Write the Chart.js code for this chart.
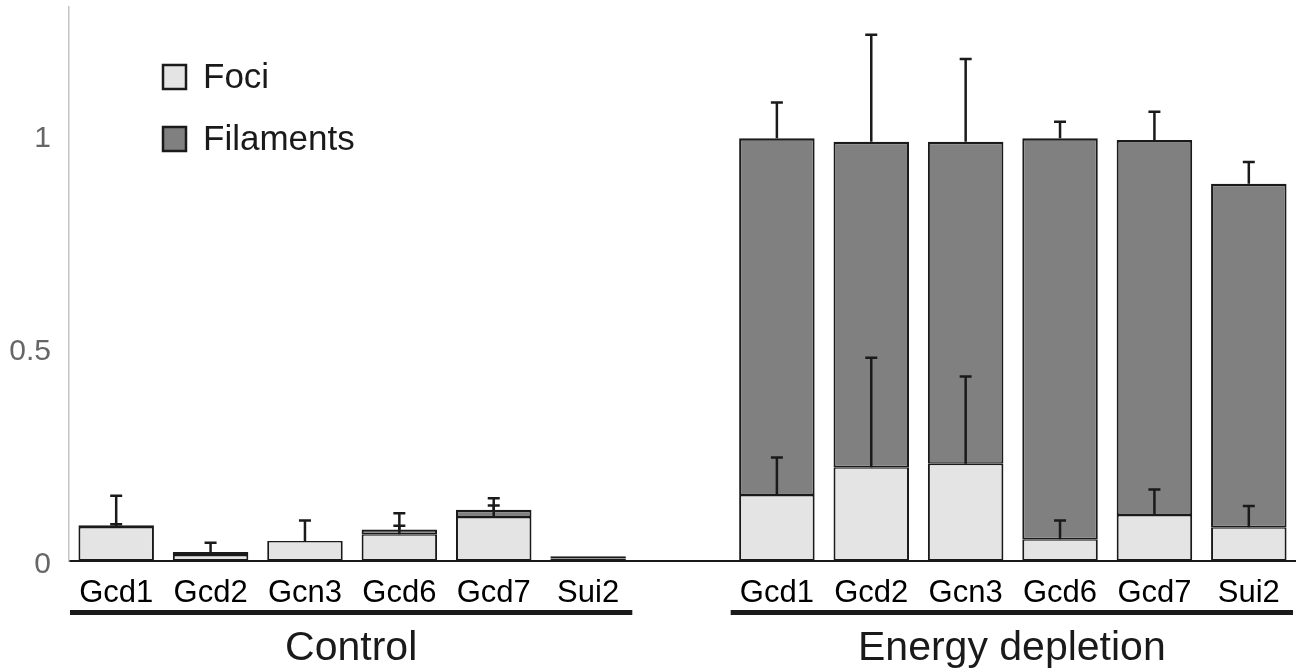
<!DOCTYPE html>
<html>
<head>
<meta charset="utf-8">
<script src="https://cdn.jsdelivr.net/npm/chart.js@4"></script>
<style>
  html, body { margin: 0; padding: 0; background: #fff; }
  #wrap { width: 1296px; height: 668px; position: relative; }
</style>
</head>
<body>
<div id="wrap"><canvas id="chart"></canvas></div>
<script>
// values
const proteins = ['Gcd1', 'Gcd2', 'Gcn3', 'Gcd6', 'Gcd7', 'Sui2'];
const groups = ['Control', 'Energy depletion'];
const yTicks = [0, 0.5, 1];

const fociControl = [0.080, 0.014, 0.047, 0.063, 0.103, 0.006];
const filamentsControl = [0.004, 0.007, 0.000, 0.011, 0.017, 0.005];
const fociControlErr = [0.073, 0.029, 0.048, 0.049, 0.044, 0];
const filamentsControlErr = [0.002, 0, 0, 0.009, 0.010, 0];

const fociEnergy = [0.155, 0.220, 0.228, 0.051, 0.108, 0.079];
const filamentsEnergy = [0.837, 0.764, 0.756, 0.941, 0.880, 0.806];
const fociEnergyErr = [0.088, 0.257, 0.205, 0.044, 0.060, 0.050];
const filamentsEnergyErr = [0.084, 0.251, 0.194, 0.039, 0.066, 0.051];

const FONT = '"Liberation Sans", Arial, Helvetica, sans-serif';
const FOCI_COLOR = '#e5e4e5';
const FIL_COLOR = '#808080';
const INK = '#1a1a1a';

// one empty slot between the two groups
const labels = [...proteins, '', ...proteins];
const join = (a, b) => [...a, null, ...b];

// error bars drawn upward from the top of each segment
const errorBars = {
    id: 'errorBars',
    afterDatasetsDraw(chart) {
        const ctx = chart.ctx;
        const yScale = chart.scales.y;
        const sets = chart.data.datasets;
        ctx.save();
        ctx.strokeStyle = INK;
        ctx.lineWidth = 2.5;
        sets.forEach((ds, i) => {
            const meta = chart.getDatasetMeta(i);
            meta.data.forEach((bar, j) => {
                const err = ds.errors[j];
                if (!err) return;
                let top = 0;
                for (let k = 0; k <= i; k++) top += sets[k].data[j] || 0;
                const y0 = yScale.getPixelForValue(top);
                const y1 = yScale.getPixelForValue(top + err);
                ctx.beginPath();
                ctx.moveTo(bar.x, y0);
                ctx.lineTo(bar.x, y1);
                ctx.moveTo(bar.x - 6, y1);
                ctx.lineTo(bar.x + 6, y1);
                ctx.stroke();
            });
        });
        ctx.restore();
    }
};

// legend inside the plot, stacked vertically
const boxLegend = {
    id: 'boxLegend',
    afterDraw(chart) {
        const ctx = chart.ctx;
        const x = chart.chartArea.left + 94;
        const rows = [
            { text: 'Foci', color: FOCI_COLOR, y: 77 },
            { text: 'Filaments', color: FIL_COLOR, y: 139 }
        ];
        ctx.save();
        rows.forEach(r => {
            ctx.fillStyle = r.color;
            ctx.fillRect(x, r.y - 12, 23, 24);
            ctx.strokeStyle = INK;
            ctx.lineWidth = 2.5;
            ctx.strokeRect(x, r.y - 12, 23, 24);
            ctx.fillStyle = INK;
            ctx.font = '35px ' + FONT;
            ctx.textBaseline = 'middle';
            ctx.textAlign = 'left';
            ctx.fillText(r.text, x + 40, r.y + 1);
        });
        ctx.restore();
    }
};

// group underline and group name below the tick labels
const groupLabels = {
    id: 'groupLabels',
    afterDraw(chart) {
        const ctx = chart.ctx;
        const xs = chart.scales.x;
        const step = xs.width / labels.length;
        const spans = [[0, proteins.length - 1], [proteins.length + 1, labels.length - 1]];
        ctx.save();
        spans.forEach((s, g) => {
            const x0 = xs.getPixelForValue(s[0]) - step / 2 + 1;
            const x1 = xs.getPixelForValue(s[1]) + step / 2 - 3;
            ctx.fillStyle = INK;
            ctx.fillRect(x0, 610, x1 - x0, 5);
            ctx.font = '41px ' + FONT;
            ctx.textAlign = 'center';
            ctx.textBaseline = 'alphabetic';
            ctx.fillText(groups[g], (x0 + x1) / 2, 660);
        });
        ctx.restore();
    }
};

const ctx = document.getElementById('chart').getContext('2d');
new Chart(ctx, {
    type: 'bar',
    data: {
        labels: labels,
        datasets: [{
            label: 'Foci',
            data: join(fociControl, fociEnergy),
            errors: join(fociControlErr, fociEnergyErr),
            backgroundColor: FOCI_COLOR,
            borderColor: INK,
            borderWidth: { left: 2, right: 2, bottom: 2, top: 1.5 },
            borderSkipped: false
        }, {
            label: 'Filaments',
            data: join(filamentsControl, filamentsEnergy),
            errors: join(filamentsControlErr, filamentsEnergyErr),
            backgroundColor: FIL_COLOR,
            borderColor: INK,
            borderWidth: { left: 2, right: 2, bottom: 1.5, top: 2.5 },
            borderSkipped: false
        }]
    },
    options: {
        responsive: true,
        maintainAspectRatio: false,
        animation: false,
        layout: { padding: { top: 7, right: 0, left: 0, bottom: 0 } },
        categoryPercentage: 0.8,
        barPercentage: 1,
        plugins: {
            legend: { display: false },
            tooltip: { enabled: false }
        },
        scales: {
            x: {
                stacked: true,
                grid: { display: false, drawTicks: false },
                border: { display: true, color: INK, width: 2 },
                ticks: {
                    color: '#000',
                    font: { family: FONT, size: 31 },
                    padding: 14,
                    maxRotation: 0,
                    autoSkip: false
                },
                afterFit(scale) {
                    scale.height = 107;
                    scale.paddingLeft = 0;
                    scale.paddingRight = 0;
                }
            },
            y: {
                stacked: true,
                min: 0,
                max: 1.3,
                grid: { display: false, drawTicks: false },
                border: { display: true, color: '#c4c4c4', width: 1.5 },
                afterBuildTicks(scale) {
                    scale.ticks = yTicks.map(v => ({ value: v }));
                },
                ticks: {
                    color: '#666',
                    font: { family: FONT, size: 30 },
                    padding: 18,
                    labelOffset: 4,
                    callback: v => String(v)
                },
                afterFit(scale) {
                    scale.width = 69;
                    scale.paddingTop = 0;
                    scale.paddingBottom = 0;
                }
            }
        }
    },
    plugins: [errorBars, boxLegend, groupLabels]
});
</script>
</body>
</html>
